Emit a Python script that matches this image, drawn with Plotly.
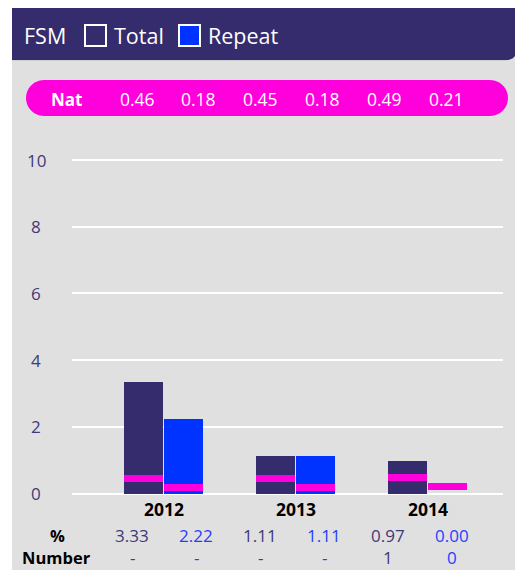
import numpy as np
import plotly.graph_objects as go

# ---- data ----
years = ["2012", "2013", "2014"]
total_pct = [3.33, 1.11, 0.97]
repeat_pct = [2.22, 1.11, 0.00]
nat_total = [0.46, 0.45, 0.49]
nat_repeat = [0.18, 0.18, 0.21]
total_number = ["-", "-", "1"]
repeat_number = ["-", "-", "0"]
y_ticks = [0, 2, 4, 6, 8, 10]

# ---- style ----
W, H = 515, 570
ML, MR, MT, MB = 72, 12, 130, 75
PW, PH = W - ML - MR, H - MT - MB
BG = "#e0e0e0"
NAVY = "#342c6c"
BLUE = "#0033ff"
MAG = "#ff00dd"
TXT_NAVY = "#3d3a78"
TXT_BLUE = "#1f3fff"
FONT = "Open Sans"


def px(p):
    return (p - ML) / PW


def py(p):
    return (H - MB - p) / PH


fig = go.Figure()

n = len(years)
xi = np.arange(n)
bw = 0.295
off = 0.1515
band = 0.21

fig.add_trace(go.Bar(x=xi - off, y=total_pct, width=bw, marker=dict(color=NAVY, line=dict(width=0)),
                     hoverinfo="skip", showlegend=False))
fig.add_trace(go.Bar(x=xi + off, y=repeat_pct, width=bw, marker=dict(color=BLUE, line=dict(width=0)),
                     hoverinfo="skip", showlegend=False))
fig.add_trace(go.Bar(x=xi - off, y=[band] * n, base=[v - band / 2 for v in nat_total], width=bw,
                     marker=dict(color=MAG, line=dict(width=0)), hoverinfo="skip", showlegend=False))
fig.add_trace(go.Bar(x=xi + off, y=[band] * n, base=[v - band / 2 for v in nat_repeat], width=bw,
                     marker=dict(color=MAG, line=dict(width=0)), hoverinfo="skip", showlegend=False))

shapes = []
# grey panel
shapes.append(dict(type="rect", xref="paper", yref="paper", x0=px(12), x1=px(W), y0=py(8), y1=py(H),
                   fillcolor=BG, line=dict(width=0), layer="below"))


def rounded_path(x0, y0, x1, y1, r_tl, r_tr, r_br, r_bl):
    pts = []

    def arc(cx, cy, r, a0, a1):
        if r <= 0:
            pts.append((cx, cy))
            return
        for a in np.linspace(a0, a1, 12):
            pts.append((cx + r * np.cos(a), cy + r * np.sin(a)))
    arc(x0 + r_tl, y0 + r_tl, r_tl, np.pi, 1.5 * np.pi)
    arc(x1 - r_tr, y0 + r_tr, r_tr, 1.5 * np.pi, 2 * np.pi)
    arc(x1 - r_br, y1 - r_br, r_br, 0, 0.5 * np.pi)
    arc(x0 + r_bl, y1 - r_bl, r_bl, 0.5 * np.pi, np.pi)
    d = "M " + " L ".join(f"{px(a):.5f},{py(b):.5f}" for a, b in pts) + " Z"
    return d


# header
shapes.append(dict(type="path", xref="paper", yref="paper", path=rounded_path(12, 8, W + 2, 60, 0, 0, 10, 0),
                   fillcolor=NAVY, line=dict(width=0), layer="below"))
shapes.append(dict(type="line", xref="paper", yref="paper", x0=px(12), x1=px(W - 8), y0=py(60.5), y1=py(60.5),
                   line=dict(color="#cfcfcf", width=1), layer="below"))
# legend boxes
shapes.append(dict(type="rect", xref="paper", yref="paper", x0=px(85), x1=px(106), y0=py(25), y1=py(46),
                   fillcolor=NAVY, line=dict(color="white", width=2)))
shapes.append(dict(type="rect", xref="paper", yref="paper", x0=px(179), x1=px(200), y0=py(25), y1=py(46),
                   fillcolor=BLUE, line=dict(color="white", width=2)))
# nat pill
shapes.append(dict(type="path", xref="paper", yref="paper", path=rounded_path(26, 80, 508, 116, 18, 18, 18, 18),
                   fillcolor=MAG, line=dict(width=0), layer="below"))

ann = []


def t(x, y, s, size=16, color="white", bold=False, xanchor="center", yanchor="middle"):
    ann.append(dict(xref="paper", yref="paper", x=px(x), y=py(y), text=f"<b>{s}</b>" if bold else s,
                    showarrow=False, xanchor=xanchor, yanchor=yanchor, borderpad=0,
                    font=dict(family=FONT, size=size, color=color)))


t(23, 36, "FSM", size=21.5, xanchor="left")
t(113, 36, "Total", size=21.5, xanchor="left")
t(207, 36, "Repeat", size=21.5, xanchor="left")

t(66, 99, "Nat", size=17, bold=True)
nat_vals = []
for a, b in zip(nat_total, nat_repeat):
    nat_vals += [a, b]
for k, v in enumerate(nat_vals):
    t(137 + 61.8 * k, 99, f"{v:.2f}", size=17.5)

# y tick labels (centered)
for v in y_ticks:
    ann.append(dict(xref="paper", yref="y", x=px(36), y=v, text=str(v), showarrow=False, xanchor="center",
                    yanchor="middle", font=dict(family=FONT, size=17, color=TXT_NAVY)))

# x year labels
for i, yr in enumerate(years):
    ann.append(dict(xref="x", yref="paper", x=i, y=py(509), text=f"<b>{yr}</b>", showarrow=False,
                    xanchor="center", yanchor="middle", font=dict(family=FONT, size=17.5, color="black")))

t(57, 535, "%", size=16.5, color="black", bold=True)
t(21, 570, "Number", size=16.5, color="black", bold=True, xanchor="left", yanchor="bottom")
for i in range(n):
    cx_t = 132 + 64 * (2 * i)
    cx_r = 132 + 64 * (2 * i + 1)
    t(cx_t, 535, f"{total_pct[i]:.2f}", size=17, color=TXT_NAVY)
    t(cx_r, 535, f"{repeat_pct[i]:.2f}", size=17, color=TXT_BLUE)
    t(cx_t, 570, total_number[i], size=17, color=TXT_NAVY, yanchor="bottom")
    t(cx_r, 570, repeat_number[i], size=17, color=TXT_BLUE, yanchor="bottom")

ppu_x = 132.0
x0 = -(163.5 - ML) / ppu_x
x1 = x0 + PW / ppu_x
ppu_y = 33.35
y0 = -(H - MB - 493.5) / ppu_y
y1 = y0 + PH / ppu_y

fig.update_layout(
    width=W, height=H,
    margin=dict(l=ML, r=MR, t=MT, b=MB, pad=0),
    paper_bgcolor="white", plot_bgcolor="rgba(0,0,0,0)",
    barmode="overlay", bargap=0,
    xaxis=dict(range=[x0, x1], showgrid=False, zeroline=False, showticklabels=False, fixedrange=True),
    yaxis=dict(range=[y0, y1], tickvals=y_ticks, showgrid=True, gridcolor="white", gridwidth=2,
               zeroline=False, showticklabels=False, fixedrange=True),
    shapes=shapes, annotations=ann,
    font=dict(family=FONT),
    showlegend=False,
)

fig.write_html("out.html", config={"displayModeBar": False},
               post_script="document.body.style.margin='0';document.body.style.overflow='hidden';")
